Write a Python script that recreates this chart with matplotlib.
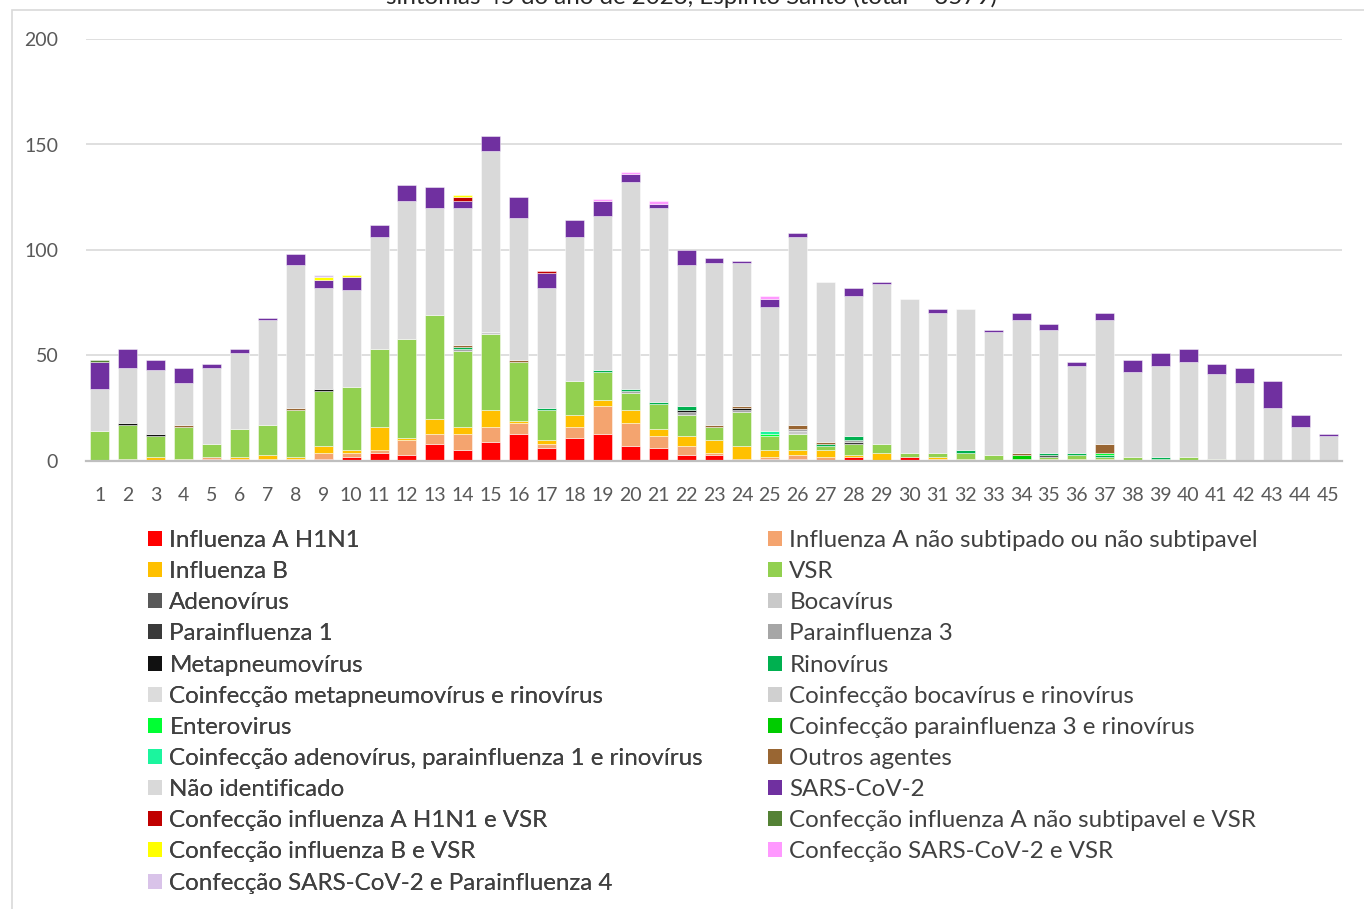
import matplotlib.pyplot as plt
import numpy as np
from matplotlib.patches import Rectangle, Patch

plt.rcParams['font.family'] = ['Lato', 'DejaVu Sans']

weeks = list(range(1, 46))

h1n1 = [0, 0, 0, 0, 1, 1, 0, 0, 1, 2,
        4, 3, 8, 5, 9, 13, 6, 11, 13, 7,
        6, 3, 3, 1, 1, 1, 0, 2, 0, 2,
        0, 0, 0, 0, 0, 0, 0, 0, 0, 0,
        0, 0, 0, 0, 0]
flu_a_ns = [0, 1, 0, 0, 1, 0, 1, 1, 3, 2,
            1, 7, 5, 8, 7, 5, 2, 5, 13, 11,
            6, 4, 1, 0, 1, 2, 2, 0, 0, 0,
            1, 0, 0, 0, 1, 0, 0, 0, 0, 0,
            0, 0, 0, 0, 0]
flu_b = [0, 0, 2, 1, 0, 1, 2, 1, 3, 1,
         11, 1, 7, 3, 8, 1, 2, 6, 3, 6,
         3, 5, 6, 6, 3, 2, 3, 1, 4, 0,
         1, 1, 0, 0, 0, 1, 1, 0, 0, 0,
         0, 0, 0, 0, 0]
vsr = [14, 16, 10, 15, 6, 13, 14, 22, 26, 30,
       37, 47, 49, 36, 36, 28, 14, 16, 13, 8,
       12, 10, 6, 16, 7, 8, 2, 5, 4, 2,
       2, 3, 3, 1, 1, 2, 1, 2, 1, 2,
       1, 0, 0, 0, 0]
adeno = [0] * 34 + [1] + [0] * 10
boca = [0] * 14 + [1] + [0] * 10 + [1] + [0] * 19
para1 = [0] * 27 + [1] + [0] * 17
para3 = [0, 0, 0, 0, 0, 0, 0, 0, 0, 0,
         0, 0, 0, 1, 0, 0, 0, 0, 0, 1,
         0, 1, 0, 1, 0, 1, 0, 1, 0, 0,
         0, 0, 0, 0, 0, 0, 0, 0, 0, 0,
         0, 0, 0, 0, 0]
metap = [0, 1, 1, 0, 0, 0, 0, 0, 1, 0,
         0, 0, 0, 0, 0, 0, 0, 0, 0, 0,
         0, 1, 0, 1, 0, 0, 0, 0, 0, 0,
         0, 0, 0, 0, 0, 0, 0, 0, 0, 0,
         0, 0, 0, 0, 0]
rino = [0, 0, 0, 0, 0, 0, 0, 0, 0, 0,
        0, 0, 0, 1, 0, 0, 1, 0, 1, 1,
        1, 2, 0, 0, 0, 0, 1, 2, 0, 0,
        0, 1, 0, 0, 1, 1, 1, 0, 1, 0,
        0, 0, 0, 0, 0]
coinf_metap_rino = [0] * 45
coinf_boca_rino = [0] * 45
enterovirus = [0] * 24 + [1] + [0] * 11 + [1] + [0] * 8
coinf_para3_rino = [0] * 33 + [2] + [0] * 11
coinf_adeno = [0] * 24 + [1] + [0] * 20
outros = [0, 0, 0, 1, 0, 0, 0, 1, 0, 0,
          0, 0, 0, 1, 0, 1, 0, 0, 0, 0,
          0, 0, 1, 1, 0, 2, 1, 0, 0, 0,
          0, 0, 0, 1, 0, 0, 4, 0, 0, 0,
          0, 0, 0, 0, 0]
nao_ident = [20, 26, 30, 20, 36, 36, 50, 68, 48, 46,
             53, 65, 51, 65, 86, 67, 57, 68, 73, 98,
             92, 67, 77, 68, 59, 89, 76, 66, 76, 73,
             66, 67, 58, 63, 58, 41, 59, 40, 43, 45,
             40, 37, 25, 16, 12]
sars = [13, 9, 5, 7, 2, 2, 1, 5, 4, 6,
        6, 8, 10, 3, 7, 10, 7, 8, 7, 4,
        2, 7, 2, 1, 4, 2, 0, 4, 1, 0,
        2, 0, 1, 3, 3, 2, 3, 6, 6, 6,
        5, 7, 13, 6, 1]
conf_h1n1_vsr = [0] * 13 + [2] + [0] * 2 + [1] + [0] * 28
conf_a_vsr = [1] + [0] * 44
conf_b_vsr = [0] * 8 + [1, 1] + [0] * 3 + [1] + [0] * 31
conf_sars_vsr = [0] * 18 + [1, 1, 1] + [0] * 3 + [1] + [0] * 20
conf_sars_p4 = [0] * 8 + [1] + [0] * 36

series = [
    ("Influenza A H1N1", h1n1, "#FF0000"),
    ("Influenza A não subtipado ou não subtipavel", flu_a_ns, "#F4A46F"),
    ("Influenza B", flu_b, "#FFC000"),
    ("VSR", vsr, "#92D050"),
    ("Adenovírus", adeno, "#595959"),
    ("Bocavírus", boca, "#C9C9C9"),
    ("Parainfluenza 1", para1, "#3A3A3A"),
    ("Parainfluenza 3", para3, "#A6A6A6"),
    ("Metapneumovírus", metap, "#111111"),
    ("Rinovírus", rino, "#00B050"),
    ("Coinfecção metapneumovírus e rinovírus", coinf_metap_rino, "#DCDCDC"),
    ("Coinfecção bocavírus e rinovírus", coinf_boca_rino, "#D0D0D0"),
    ("Enterovirus", enterovirus, "#00FF33"),
    ("Coinfecção parainfluenza 3 e rinovírus", coinf_para3_rino, "#00CC00"),
    ("Coinfecção adenovírus, parainfluenza 1 e rinovírus", coinf_adeno, "#1BF59E"),
    ("Outros agentes", outros, "#996633"),
    ("Não identificado", nao_ident, "#D9D9D9"),
    ("SARS-CoV-2", sars, "#7030A0"),
    ("Confecção influenza A H1N1 e VSR", conf_h1n1_vsr, "#C00000"),
    ("Confecção influenza A não subtipavel e VSR", conf_a_vsr, "#548235"),
    ("Confecção influenza B e VSR", conf_b_vsr, "#FFFF00"),
    ("Confecção SARS-CoV-2 e VSR", conf_sars_vsr, "#FF99FF"),
    ("Confecção SARS-CoV-2 e Parainfluenza 4", conf_sars_p4, "#D9C3E9"),
]

W, H = 1364, 909
fig = plt.figure(figsize=(W / 100, H / 100), dpi=100)
ax = fig.add_axes([86 / W, 1 - 461 / H, (1342 - 86) / W, (461 - 39) / H])

bottom = np.zeros(len(weeks))
handles = []
for label, vals, color in series:
    vals = np.array(vals, dtype=float)
    idx = vals > 0
    ax.bar(np.array(weeks)[idx], vals[idx], 0.68, bottom=bottom[idx],
           color=color, edgecolor=(1, 1, 1, 0.55), linewidth=0.6, zorder=3)
    bottom += vals
    handles.append(Patch(facecolor=color, label=label))

ax.set_xlim(0.5, 45.5)
ax.set_ylim(0, 200)
ax.set_yticks([0, 50, 100, 150, 200])
ax.set_xticks(weeks)
ax.grid(axis='y', color='#D9D9D9', linewidth=1.2, zorder=0)
for s in ['top', 'right', 'left']:
    ax.spines[s].set_visible(False)
ax.spines['bottom'].set_color('#BFBFBF')
ax.spines['bottom'].set_linewidth(1.6)
ax.spines['bottom'].set_zorder(4)
ax.tick_params(axis='both', length=0, labelsize=14, labelcolor='#595959')
ax.tick_params(axis='y', pad=20)
ax.tick_params(axis='x', pad=19)

fig.text(692 / W, 1 - 4 / H, "sintomas 45 do ano de 2023, Espírito Santo (total = 3579)",
         ha='center', va='baseline', fontsize=17.4, color='#262626')

fig.patches.append(Rectangle((12 / W, -0.05), 1.2, 1 - 10 / H + 0.05,
                             transform=fig.transFigure, fill=False,
                             edgecolor='#D9D9D9', linewidth=1.2))

leg_kw = dict(loc='upper left', frameon=False, fontsize=17.4, borderpad=0,
              borderaxespad=0, handlelength=0.58, handleheight=0.58,
              handletextpad=0.3, labelspacing=0.42, labelcolor='#404040')
leg1 = fig.legend(handles=handles[0::2], bbox_to_anchor=(148 / W, 1 - 530 / H), **leg_kw)
fig.add_artist(leg1)
fig.legend(handles=handles[1::2], bbox_to_anchor=(768 / W, 1 - 530 / H), **leg_kw)

fig.savefig("out.png", dpi=100)
